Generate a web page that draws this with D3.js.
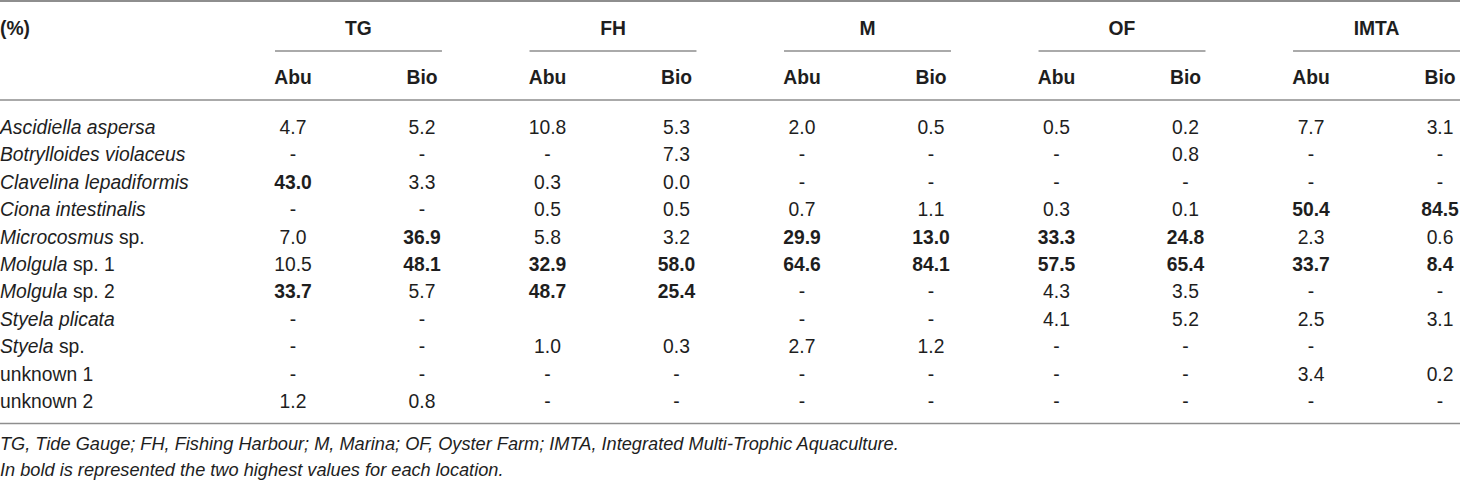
<!DOCTYPE html>
<html>
<head>
<meta charset="utf-8">
<script src="https://cdn.jsdelivr.net/npm/d3@7/dist/d3.min.js"></script>
<style>
  html, body { margin: 0; padding: 0; background: #fff; }
  svg { display: block; }
  text { font-family: "Liberation Sans", Arial, Helvetica, sans-serif; fill: #1e1e1e; }
</style>
</head>
<body>
<svg id="chart" width="1460" height="481"></svg>
<script>
// ---- Data ----
const corner = "(%)";
const groups = ["TG", "FH", "M", "OF", "IMTA"];
const subCols = ["Abu", "Bio"];
const speciesItalic = ["Ascidiella aspersa", "Botrylloides violaceus", "Clavelina lepadiformis", "Ciona intestinalis",
  "Microcosmus", "Molgula", "Molgula", "Styela plicata", "Styela", "", ""];
const speciesPlain = ["", "", "", "", " sp.", " sp. 1", " sp. 2", "", " sp.", "unknown 1", "unknown 2"];

// "-" = dash shown, "" = empty cell
const tgAbu   = [4.7, "-", 43.0, "-", 7.0, 10.5, 33.7, "-", "-", "-", 1.2];
const tgBio   = [5.2, "-", 3.3, "-", 36.9, 48.1, 5.7, "-", "-", "-", 0.8];
const fhAbu   = [10.8, "-", 0.3, 0.5, 5.8, 32.9, 48.7, "", 1.0, "-", "-"];
const fhBio   = [5.3, 7.3, 0.0, 0.5, 3.2, 58.0, 25.4, "", 0.3, "-", "-"];
const mAbu    = [2.0, "-", "-", 0.7, 29.9, 64.6, "-", "-", 2.7, "-", "-"];
const mBio    = [0.5, "-", "-", 1.1, 13.0, 84.1, "-", "-", 1.2, "-", "-"];
const ofAbu   = [0.5, "-", "-", 0.3, 33.3, 57.5, 4.3, 4.1, "-", "-", "-"];
const ofBio   = [0.2, 0.8, "-", 0.1, 24.8, 65.4, 3.5, 5.2, "-", "-", "-"];
const imtaAbu = [7.7, "-", "-", 50.4, 2.3, 33.7, "-", 2.5, "-", 3.4, "-"];
const imtaBio = [3.1, "-", "-", 84.5, 0.6, 8.4, "-", 3.1, "", 0.2, "-"];

const footnotes = [
  "TG, Tide Gauge; FH, Fishing Harbour; M, Marina; OF, Oyster Farm; IMTA, Integrated Multi-Trophic Aquaculture.",
  "In bold is represented the two highest values for each location."
];

// ---- Build ----
const columns = [
  [tgAbu, tgBio], [fhAbu, fhBio], [mAbu, mBio], [ofAbu, ofBio], [imtaAbu, imtaBio]
];
const W = 1460;
const FS = 19.3;
const svg = d3.select("#chart");

const xGroup = d3.scaleBand().domain(groups).range([275, W]).paddingInner(0.344).paddingOuter(0);
const xSub = d3.scalePoint().domain(subCols).range([18, 147]);
const rowIdx = d3.range(speciesItalic.length);
const y = d3.scalePoint().domain(rowIdx).range([127, 401.5]);

const lineColor = "#8e8e8e";

// rules
svg.append("line").attr("x1", 0).attr("x2", W).attr("y1", 1).attr("y2", 1)
  .attr("stroke", lineColor).attr("stroke-width", 2);
svg.append("line").attr("x1", 0).attr("x2", W).attr("y1", 100).attr("y2", 100)
  .attr("stroke", lineColor).attr("stroke-width", 1.5);
svg.append("line").attr("x1", 0).attr("x2", W).attr("y1", 423.5).attr("y2", 423.5)
  .attr("stroke", lineColor).attr("stroke-width", 1.5);

// corner label
svg.append("text").attr("x", 0).attr("y", 28).attr("dy", "0.35em")
  .attr("font-size", FS).attr("font-weight", "bold").text(corner);

// group headers
const gh = svg.selectAll("g.grp").data(groups).join("g").attr("class", "grp")
  .attr("transform", d => `translate(${xGroup(d)},0)`);
gh.append("text").attr("x", xGroup.bandwidth() / 2).attr("y", 28).attr("dy", "0.35em")
  .attr("text-anchor", "middle").attr("font-size", FS).attr("font-weight", "bold").text(d => d);
gh.append("line").attr("x1", 0).attr("x2", xGroup.bandwidth()).attr("y1", 51).attr("y2", 51)
  .attr("stroke", lineColor).attr("stroke-width", 1.5);
gh.selectAll("text.sub").data(subCols).join("text").attr("class", "sub")
  .attr("x", d => xSub(d)).attr("y", 77).attr("dy", "0.35em")
  .attr("text-anchor", "middle").attr("font-size", FS).attr("font-weight", "bold").text(d => d);

// row labels
const rl = svg.selectAll("text.row").data(rowIdx).join("text").attr("class", "row")
  .attr("x", 0).attr("y", i => y(i)).attr("dy", "0.35em").attr("font-size", FS);
rl.append("tspan").attr("font-style", "italic").text(i => speciesItalic[i]);
rl.append("tspan").text(i => speciesPlain[i]);

// cells
groups.forEach((g, gi) => {
  subCols.forEach((s, si) => {
    const vals = columns[gi][si];
    const nums = vals.filter(v => typeof v === "number").sort((a, b) => b - a);
    const thresh = nums.length >= 2 ? nums[1] : nums[0];
    const cx = xGroup(g) + xSub(s);
    svg.selectAll(null).data(vals.map((v, i) => ({ v, i }))).join("text")
      .attr("x", cx).attr("y", d => y(d.i)).attr("dy", "0.35em")
      .attr("text-anchor", "middle").attr("font-size", FS)
      .attr("font-weight", d => (typeof d.v === "number" && d.v >= thresh) ? "bold" : null)
      .attr("fill", d => d.v === "-" ? "#555" : null)
      .text(d => typeof d.v === "number" ? d.v.toFixed(1) : d.v);
  });
});

// footnotes
svg.selectAll("text.foot").data(footnotes).join("text").attr("class", "foot")
  .attr("x", 0).attr("y", (d, i) => 444 + i * 26).attr("dy", "0.35em")
  .attr("font-size", 18.2).attr("font-style", "italic").text(d => d);
</script>
</body>
</html>
